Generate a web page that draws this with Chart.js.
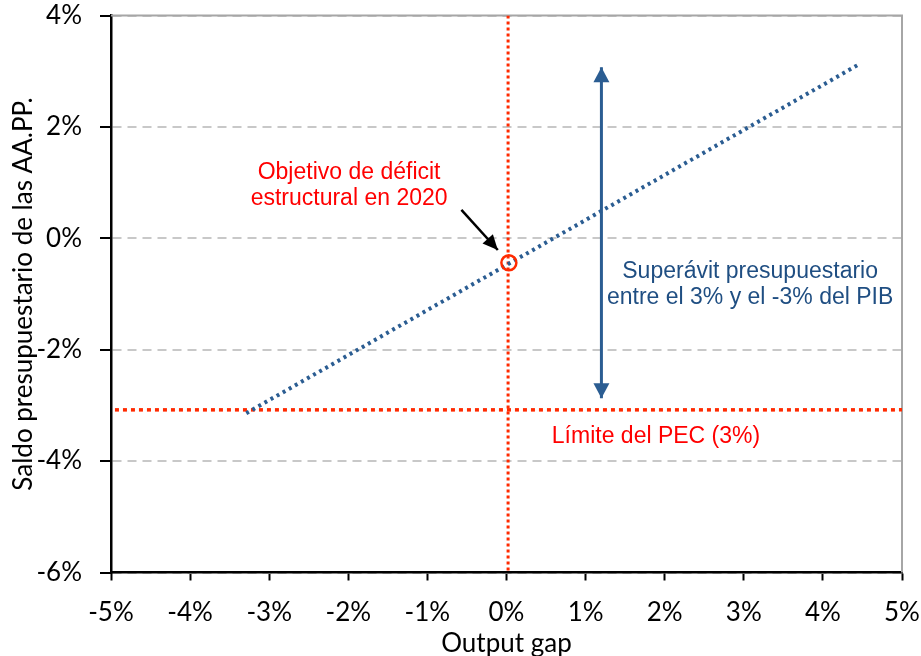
<!DOCTYPE html>
<html>
<head>
<meta charset="utf-8">
<script src="https://cdn.jsdelivr.net/npm/chart.js@4.4.1/dist/chart.umd.min.js"></script>
<style>
  body { margin: 0; background: #fff; }
  #wrap { width: 921px; height: 656px; }
</style>
</head>
<body>
<div id="wrap"><canvas id="chart"></canvas></div>
<script>
// axis ranges / ticks
const xTicks = [-5, -4, -3, -2, -1, 0, 1, 2, 3, 4, 5];
const yTicks = [-6, -4, -2, 0, 2, 4];

// fiscal rule line (saldo vs output gap)
const ruleLine = [{ x: -3.29, y: -3.14 }, { x: 4.44, y: 3.11 }];
// PEC limit (horizontal) and zero output gap (vertical)
const pecLimit = [{ x: -4.95, y: -3.08 }, { x: 5, y: -3.08 }];
const zeroGap = [{ x: 0.02, y: 4 }, { x: 0.02, y: -6 }];
// 2020 structural target
const target2020 = [{ x: 0.03, y: -0.44 }];
// arrows
const surplusArrow = [{ x: 1.2, y: 3.07 }, { x: 1.2, y: -2.87 }];
const pointerArrow = [{ x: -0.57, y: 0.51 }, { x: -0.11, y: -0.21 }];

// text labels (data coords)
const notes = [
  { lines: ['Objetivo de déficit', 'estructural en 2020'], x: -1.99, y: 0.94, color: '#ff0000' },
  { lines: ['Superávit presupuestario', 'entre el 3% y el -3% del PIB'], x: 3.08, y: -0.83, color: '#1f4e82' },
  { lines: ['Límite del PEC (3%)'], x: 1.89, y: -3.57, color: '#ff0000' }
];

const tickFont = { family: 'Lato', size: 26 };

const arrowPlugin = {
  id: 'arrows',
  afterDatasetsDraw(chart) {
    const ctx = chart.ctx;
    chart.data.datasets.forEach((ds, i) => {
      if (!ds.arrowEnds) return;
      const pts = chart.getDatasetMeta(i).data;
      const head = (tip, from, len, half) => {
        const a = Math.atan2(tip.y - from.y, tip.x - from.x);
        ctx.beginPath();
        ctx.moveTo(tip.x, tip.y);
        ctx.lineTo(tip.x - len * Math.cos(a) + half * Math.sin(a), tip.y - len * Math.sin(a) - half * Math.cos(a));
        ctx.lineTo(tip.x - len * Math.cos(a) - half * Math.sin(a), tip.y - len * Math.sin(a) + half * Math.cos(a));
        ctx.closePath();
        ctx.fill();
      };
      ctx.save();
      ctx.fillStyle = ds.borderColor;
      const n = pts.length;
      if (ds.arrowEnds.includes('end')) head(pts[n - 1], pts[n - 2], ds.headLen, ds.headHalf);
      if (ds.arrowEnds.includes('start')) head(pts[0], pts[1], ds.headLen, ds.headHalf);
      ctx.restore();
    });
  }
};

const framePlugin = {
  id: 'frame',
  beforeDatasetsDraw(chart) {
    const { ctx, chartArea: a } = chart;
    ctx.save();
    ctx.strokeStyle = '#a6a6a6';
    ctx.lineWidth = 2;
    ctx.beginPath();
    ctx.moveTo(a.left, a.top);
    ctx.lineTo(a.right, a.top);
    ctx.lineTo(a.right, a.bottom);
    ctx.stroke();
    ctx.restore();
  }
};

const notesPlugin = {
  id: 'notes',
  afterDatasetsDraw(chart) {
    const { ctx, scales } = chart;
    ctx.save();
    ctx.font = '23px "Liberation Sans", Arial, sans-serif';
    ctx.textAlign = 'center';
    ctx.textBaseline = 'middle';
    const lh = 26;
    notes.forEach(n => {
      const cx = scales.x.getPixelForValue(n.x);
      const cy = scales.y.getPixelForValue(n.y);
      ctx.fillStyle = n.color;
      n.lines.forEach((t, k) => {
        ctx.fillText(t, cx, cy + (k - (n.lines.length - 1) / 2) * lh);
      });
    });
    ctx.restore();
  }
};

new Chart(document.getElementById('chart'), {
  type: 'scatter',
  data: {
    datasets: [
      {
        data: pointerArrow, showLine: true, borderColor: '#000000', borderWidth: 2.5,
        pointRadius: 0, arrowEnds: ['end'], headLen: 15, headHalf: 7
      },
      {
        data: target2020, pointRadius: 7.5, pointBorderWidth: 2.5,
        pointBorderColor: '#ff2a00', pointBackgroundColor: 'rgba(0,0,0,0)', showLine: false
      },
      {
        data: surplusArrow, showLine: true, borderColor: '#2b5d92', borderWidth: 3,
        pointRadius: 0, arrowEnds: ['start', 'end'], headLen: 15, headHalf: 8
      },
      {
        data: ruleLine, showLine: true, borderColor: '#2b5d92', borderWidth: 4,
        borderDash: [3, 4], pointRadius: 0
      },
      {
        data: zeroGap, showLine: true, borderColor: '#ff2a00', borderWidth: 3,
        borderDash: [3, 3], pointRadius: 0
      },
      {
        data: pecLimit, showLine: true, borderColor: '#ff2a00', borderWidth: 3.5,
        borderDash: [4, 4], pointRadius: 0
      }
    ]
  },
  options: {
    responsive: true,
    maintainAspectRatio: false,
    animation: false,
    layout: { padding: { top: 15.5, right: 19, left: 0, bottom: 0 } },
    plugins: { legend: { display: false }, tooltip: { enabled: false } },
    scales: {
      x: {
        type: 'linear', min: xTicks[0], max: xTicks[xTicks.length - 1],
        afterBuildTicks: s => { s.ticks = xTicks.map(v => ({ value: v })); },
        afterFit: s => { s.height = 83.5; s.paddingLeft = 0; s.paddingRight = 0; },
        ticks: { callback: v => v + '%', color: '#000', font: tickFont, padding: 17, maxRotation: 0 },
        grid: { drawOnChartArea: false, drawTicks: true, tickLength: 8, tickColor: '#000', tickWidth: 2 },
        border: { color: '#000', width: 2.5 },
        title: { display: true, text: 'Output gap', color: '#000', font: tickFont, padding: { top: 0, bottom: -3 } }
      },
      y: {
        type: 'linear', min: yTicks[0], max: yTicks[yTicks.length - 1],
        afterBuildTicks: s => { s.ticks = yTicks.map(v => ({ value: v })); },
        afterFit: s => { s.width = 111; s.paddingTop = 0; s.paddingBottom = 0; },
        ticks: { callback: v => v + '%', color: '#000', font: tickFont, padding: 18 },
        grid: { color: '#c8c8c8', lineWidth: 2, tickLength: 11, tickColor: '#000', tickWidth: 2 },
        border: { color: '#000', width: 2.5, dash: [9, 6] },
        title: { display: true, text: 'Saldo presupuestario de las AA.PP.', color: '#000', font: tickFont, padding: { top: 8 } }
      }
    }
  },
  plugins: [framePlugin, arrowPlugin, notesPlugin]
});
</script>
</body>
</html>
